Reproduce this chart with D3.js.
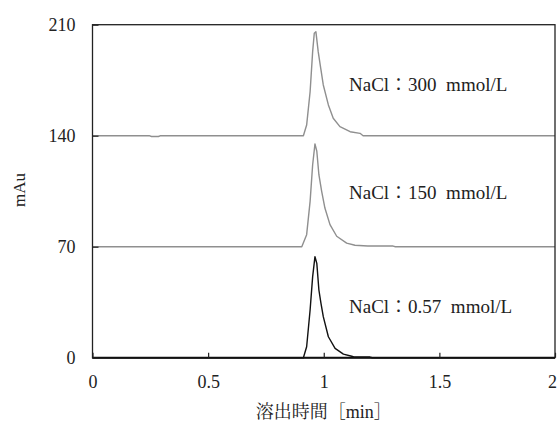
<!DOCTYPE html>
<html><head><meta charset="utf-8">
<script src="https://cdn.jsdelivr.net/npm/d3@7"></script>
<style>
html,body{margin:0;padding:0;background:#fff;}
text{font-family:"Liberation Serif","Noto Serif CJK JP","Noto Sans CJK JP",serif;fill:#222;}
</style></head>
<body><svg id="c" width="558" height="427"></svg>
<script>
// ---- data ----
const xTicks = [0, 0.5, 1, 1.5, 2];
const xTickLabels = ["0", "0.5", "1", "1.5", "2"];
const yTicks = [0, 70, 140, 210];
const seriesNames = ["NaCl：0.57  mmol/L", "NaCl：150  mmol/L", "NaCl：300  mmol/L"];
const seriesOffsets = [0, 70, 140];
const seriesColors = ["#111", "#8f8f8f", "#8f8f8f"];
// time (min)
const time0 = [0, 0.90, 0.912, 0.926, 0.941, 0.952, 0.962, 0.970, 0.979, 0.988, 0.998, 1.020, 1.049, 1.085, 1.121, 1.13, 1.20, 1.21, 2];
const signal0 = [0, 0, 0, 6.9, 30.1, 51.1, 63.7, 59.5, 42.7, 34.3, 25.9, 13.2, 5.9, 2.3, 0.9, 0.5, 0.4, 0, 0];
const time1 = [0, 0.90, 0.905, 0.926, 0.941, 0.952, 0.962, 0.970, 0.979, 0.991, 1.005, 1.027, 1.056, 1.099, 1.135, 1.19, 1.30, 1.31, 2];
const signal1 = [0, 0, 0, 7.6, 28.6, 51.7, 64.8, 60.2, 45.4, 34.9, 24.4, 13.9, 6.6, 2.3, 0.9, 0.4, 0.4, 0, 0];
const time2 = [0, 0.245, 0.255, 0.285, 0.295, 0.912, 0.926, 0.941, 0.952, 0.959, 0.966, 0.976, 0.987, 0.998, 1.020, 1.041, 1.070, 1.114, 1.157, 1.17, 2];
const signal2 = [0, 0, -0.5, -0.5, 0, 0, 6.7, 27.7, 53, 64.6, 65.6, 53, 42.5, 32, 19.4, 11, 5.7, 2.5, 1.5, 0, 0];
const times = [time0, time1, time2];
const signals = [signal0, signal1, signal2];

// ---- layout ----
const svg = d3.select("#c");
const L = 92.5, R = 555, T = 24.7, B = 357.7;
const x = d3.scaleLinear().domain([0, 2]).range([L, R]);
const y = d3.scaleLinear().domain([0, 210]).range([B, T]);

// traces (draw top first so lower ones overlay)
const line = d3.line().x(d => x(d[0])).y(d => y(d[1]));
[2, 1, 0].forEach(i => {
  const pts = times[i].map((t, k) => [t, seriesOffsets[i] + signals[i][k]]);
  svg.append("path").attr("d", line(pts)).attr("fill", "none")
    .attr("stroke", seriesColors[i]).attr("stroke-width", 1.4).attr("stroke-linejoin", "round");
});

// frame
svg.append("rect").attr("x", L).attr("y", T).attr("width", R - L).attr("height", B - T)
  .attr("fill", "none").attr("stroke", "#222").attr("stroke-width", 1.3);
svg.append("line").attr("x1", L).attr("x2", R).attr("y1", B).attr("y2", B)
  .attr("stroke", "#111").attr("stroke-width", 2);

// axes
const xAxis = d3.axisBottom(x).tickValues(xTicks).tickFormat((d, i) => xTickLabels[i])
  .tickSizeInner(-5).tickSizeOuter(0).tickPadding(18);
const gx = svg.append("g").attr("transform", `translate(0,${B})`).call(xAxis);
gx.select(".domain").remove();
gx.selectAll("line").attr("stroke", "#222").attr("stroke-width", 1.2);
gx.selectAll("text").attr("font-size", 18).attr("fill", "#222")
  .style("font-family", '"Liberation Serif",serif')
  .attr("dx", (d, i) => i === xTicks.length - 1 ? -3 : 0);

const yAxis = d3.axisLeft(y).tickValues(yTicks).tickFormat(d3.format("d"))
  .tickSizeInner(-6).tickSizeOuter(0).tickPadding(17);
const gy = svg.append("g").attr("transform", `translate(${L},0)`).call(yAxis);
gy.select(".domain").remove();
gy.selectAll("line").attr("stroke", "#222").attr("stroke-width", 1.2);
gy.selectAll("text").attr("font-size", 18).attr("fill", "#222")
  .style("font-family", '"Liberation Serif",serif');

// series labels
const labelY = [313, 199, 90.7];
seriesNames.forEach((n, i) => {
  svg.append("text").attr("x", 349).attr("y", labelY[i]).attr("font-size", 19)
    .attr("xml:space", "preserve").style("white-space", "pre").text(n);
});

// axis titles
svg.append("text").attr("x", (L + R) / 2).attr("y", 418).attr("text-anchor", "middle")
  .attr("font-size", 18).text("溶出時間［min］");
svg.append("text").attr("transform", "translate(25,190) rotate(-90)").attr("text-anchor", "middle")
  .attr("font-size", 17).text("mAu");
</script></body></html>
